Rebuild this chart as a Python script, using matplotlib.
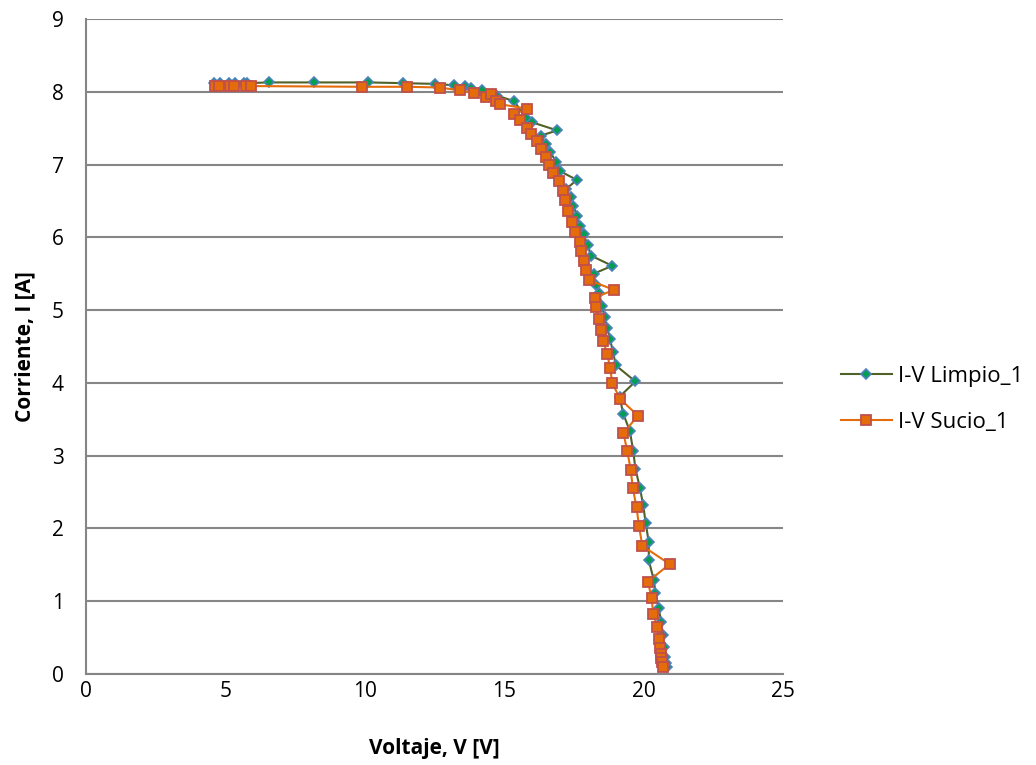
import matplotlib
matplotlib.use("Agg")
import matplotlib.pyplot as plt

# I-V curve, clean panel
limpio_v = [4.58, 4.79, 5.11, 5.36, 5.65, 5.76, 6.55, 8.19, 10.12, 11.37, 12.52, 13.20,
            13.59, 13.80, 14.20, 14.74, 15.36, 15.77, 16.01, 16.90, 16.31, 16.49, 16.64,
            16.85, 17.00, 17.60, 17.20, 17.38, 17.48, 17.60, 17.71, 17.84, 18.00, 18.10,
            18.87, 18.20, 18.28, 18.40, 18.50, 18.60, 18.69, 18.79, 18.90, 19.00, 19.70,
            19.13, 19.27, 19.50, 19.62, 19.70, 19.86, 19.98, 20.07, 20.18, 20.18, 20.36,
            20.42, 20.54, 20.62, 20.68, 20.72, 20.76, 20.80, 20.84]
limpio_i = [8.12, 8.12, 8.12, 8.12, 8.12, 8.12, 8.13, 8.13, 8.13, 8.12, 8.11, 8.09,
            8.08, 8.06, 8.03, 7.95, 7.87, 7.64, 7.58, 7.47, 7.40, 7.29, 7.18,
            7.04, 6.91, 6.79, 6.66, 6.55, 6.43, 6.30, 6.16, 6.04, 5.89, 5.75,
            5.61, 5.50, 5.34, 5.24, 5.06, 4.90, 4.76, 4.60, 4.42, 4.24, 4.02,
            3.81, 3.57, 3.34, 3.07, 2.82, 2.56, 2.32, 2.07, 1.81, 1.56, 1.29,
            1.11, 0.90, 0.72, 0.53, 0.37, 0.24, 0.15, 0.09]

# I-V curve, soiled panel
sucio_v = [4.61, 4.76, 5.15, 5.29, 5.72, 5.90, 9.91, 11.52, 12.68, 13.42, 13.90, 14.34,
           14.52, 14.70, 14.85, 15.81, 15.36, 15.57, 15.83, 15.95, 16.17, 16.31, 16.49,
           16.61, 16.75, 16.96, 17.12, 17.17, 17.29, 17.44, 17.52, 17.70, 17.74, 17.84,
           17.92, 18.04, 18.93, 18.24, 18.28, 18.39, 18.48, 18.55, 18.69, 18.79, 18.87,
           19.15, 19.79, 19.27, 19.41, 19.53, 19.61, 19.74, 19.83, 19.95, 20.93, 20.15,
           20.28, 20.34, 20.48, 20.54, 20.57, 20.60, 20.62, 20.66, 20.70]
sucio_i = [8.08, 8.08, 8.08, 8.08, 8.08, 8.08, 8.07, 8.07, 8.06, 8.02, 7.99, 7.93,
           7.97, 7.87, 7.83, 7.77, 7.69, 7.61, 7.51, 7.42, 7.32, 7.21, 7.11,
           7.00, 6.89, 6.77, 6.64, 6.51, 6.36, 6.21, 6.07, 5.94, 5.82, 5.68,
           5.55, 5.41, 5.28, 5.17, 5.04, 4.88, 4.73, 4.57, 4.40, 4.21, 4.00,
           3.78, 3.55, 3.31, 3.06, 2.81, 2.55, 2.29, 2.03, 1.76, 1.51, 1.27,
           1.04, 0.83, 0.64, 0.48, 0.35, 0.28, 0.22, 0.16, 0.09]

x_ticks = [0, 5, 10, 15, 20, 25]
y_ticks = list(range(0, 10))

plt.rcParams['font.family'] = ['Open Sans', 'DejaVu Sans']

fig = plt.figure(figsize=(10.36, 7.65), dpi=100)
ax = fig.add_axes([0.083, 0.119, 0.673, 0.856])

ax.plot(limpio_v, limpio_i, color='#4F6228', lw=1.5, marker='D', markersize=5.6,
        markerfacecolor='#00A050', markeredgecolor='#4F81BD', markeredgewidth=1.2,
        label='I-V Limpio_1', zorder=3)
ax.plot(sucio_v, sucio_i, color='#E46C0A', lw=1.5, marker='s', markersize=6.5,
        markerfacecolor='#E46C0A', markeredgecolor='#C0504D', markeredgewidth=1.3,
        label='I-V Sucio_1', zorder=4)

ax.set_xlim(0, 25)
ax.set_ylim(0, 9)
ax.set_xticks(x_ticks)
ax.set_yticks(y_ticks)
ax.tick_params(axis='x', length=0, labelsize=15, pad=5)
ax.tick_params(axis='y', length=0, labelsize=15, pad=16)
ax.grid(axis='y', color='#868686', lw=1.5)
ax.set_axisbelow(True)
for side in ('top', 'right'):
    ax.spines[side].set_visible(False)
for side in ('left', 'bottom'):
    ax.spines[side].set_color('#868686')
    ax.spines[side].set_linewidth(1.5)

ax.set_xlabel('Voltaje, V [V]', fontsize=15, fontweight='bold', labelpad=26)
ax.set_ylabel('Corriente, I [A]', fontsize=15, fontweight='bold', labelpad=12)

fig.legend(loc='center left', bbox_to_anchor=(0.792, 0.478), frameon=False,
           fontsize=16, handlelength=2.3, labelspacing=1.1, handletextpad=0.3)

fig.savefig('out.png', dpi=100)
